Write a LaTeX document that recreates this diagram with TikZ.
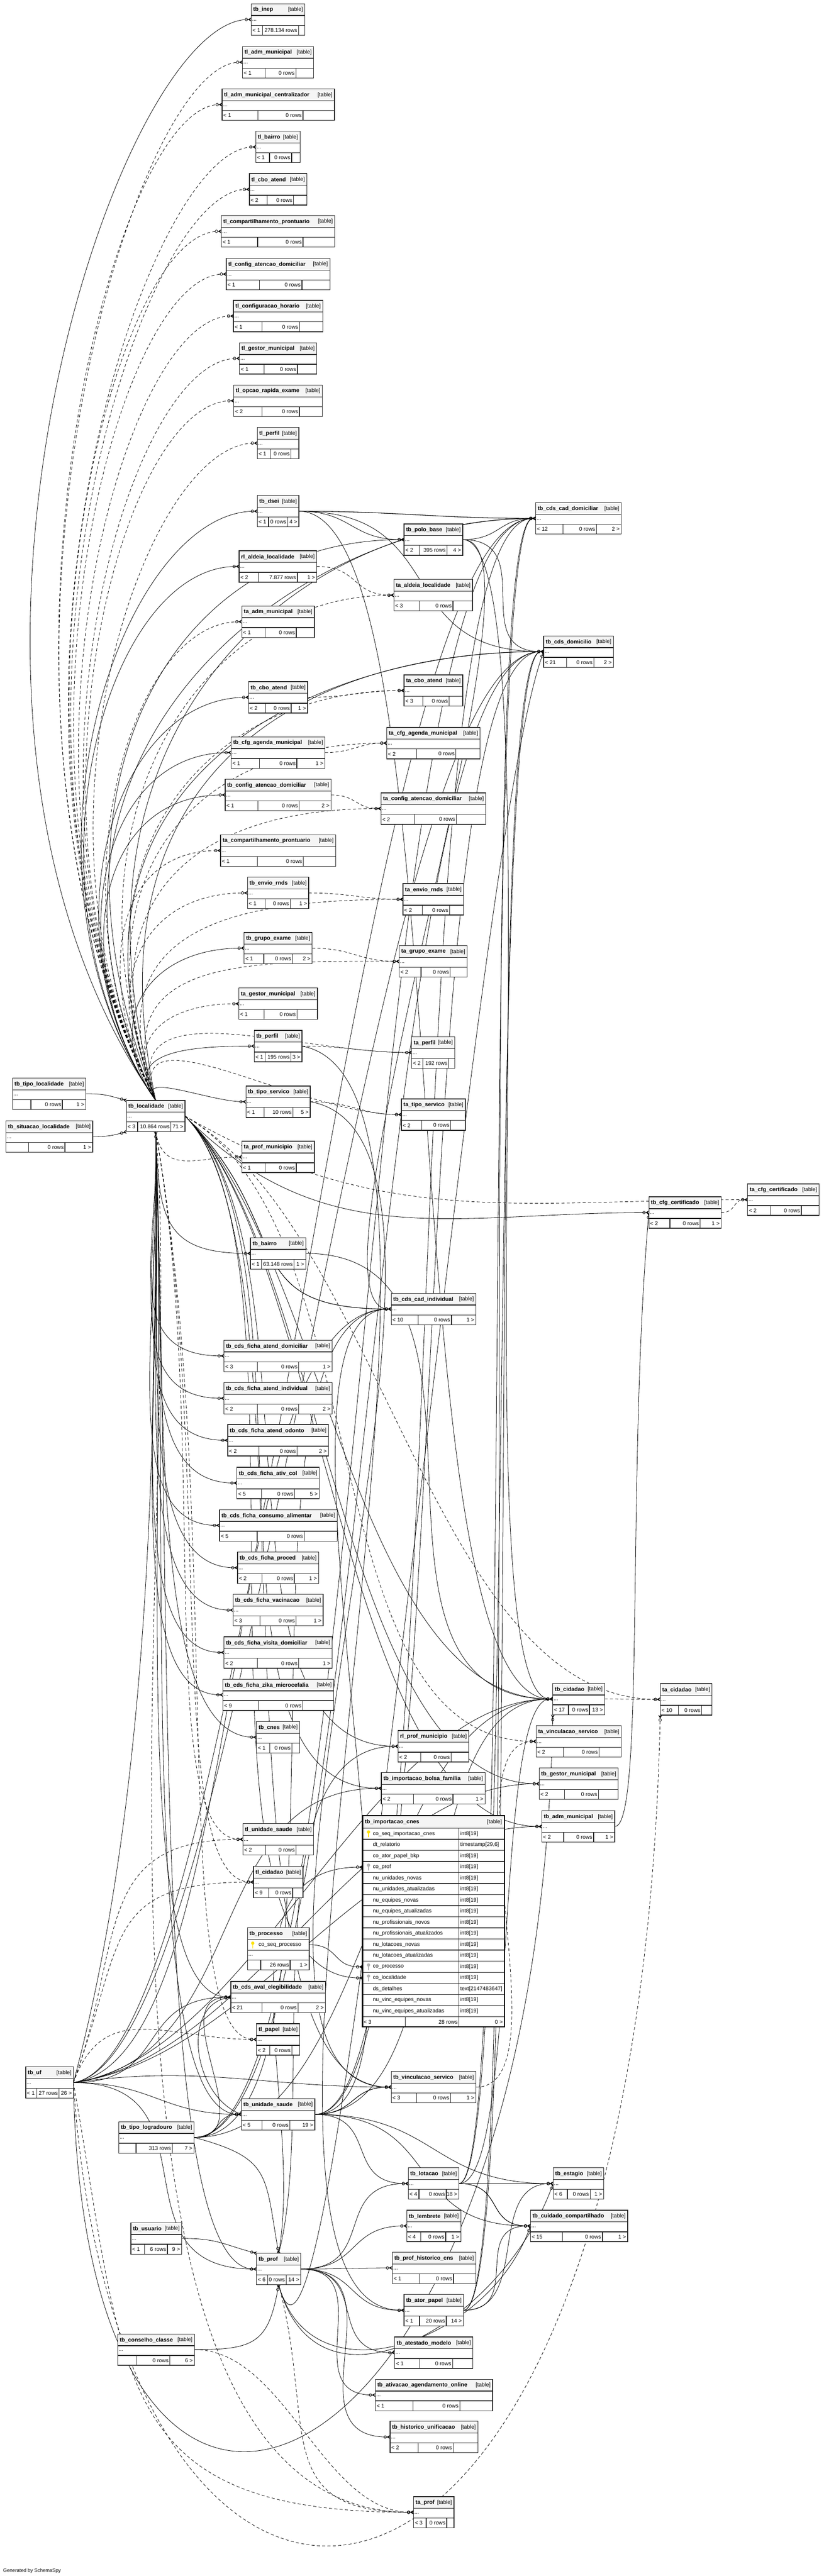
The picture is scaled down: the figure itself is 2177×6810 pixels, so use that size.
\documentclass[tikz,border=0pt]{standalone}
\usepackage{fontspec}
\setmainfont{Liberation Sans}
\usetikzlibrary{arrows.meta}
\pgfdeclarelayer{edges}
\pgfsetlayers{edges,main}

\tikzset{
  tableline/.style={draw=black!85, line width=0.9pt},
  headfill/.style={fill=black!4},
  tablename/.style={font=\bfseries\fontsize{7.4}{8}\selectfont, inner sep=0pt},
  tabletag/.style={font=\fontsize{7.2}{8}\selectfont, inner sep=0pt},
  cell/.style={font=\fontsize{7.2}{8}\selectfont, inner sep=0pt},
  tablebox/.style={inner sep=0pt, outer sep=0pt, minimum height=41.5pt},
  rowport/.style={inner sep=0pt, outer sep=0pt, minimum size=0pt},
  fk/.style={line width=0.55pt, -{Circle[open,length=4pt,width=4pt]Stealth[reversed,length=4.5pt,width=5pt]}},
  implied/.style={fk, dash pattern=on 4pt off 3pt},
}

% one table: name, x, y, width, footer splits (fractions), parents, rows, children
\newcommand{\dbtable}[9]{%
  \fill[white] (#2,#3) rectangle ++(#4,83);
  \fill[headfill] (#2,#3) rectangle ++(#4,31);
  \draw[tableline] (#2,#3) rectangle ++(#4,83);
  \draw[tableline] (#2,#3+31) -- ++(#4,0) (#2,#3+57) -- ++(#4,0);
  \draw[tableline] (#2+#5*#4,#3+57) -- ++(0,26) (#2+#6*#4,#3+57) -- ++(0,26);
  \node[tablename, anchor=west] (#1-name) at (#2+5,#3+16) {#1};
  \node[tabletag, anchor=east] (#1-tag) at (#2+#4-5,#3+16) {[table]};
  \node[cell, anchor=west] (#1-dots) at (#2+2,#3+45) {...};
  \node[cell, anchor=west] (#1-in) at (#2+3,#3+70) {#7};
  \node[cell, anchor=east] (#1-rows) at (#2+#6*#4-3,#3+70) {#8};
  \node[cell, anchor=east] (#1-out) at (#2+#4-4,#3+70) {#9};
  \node[tablebox, minimum width=#4*0.5pt, anchor=north west] (#1) at (#2,#3) {};
}
% key glyph: x, y, colour
\newcommand{\dbkey}[3]{%
  \draw[#3, line width=1.1pt, line cap=round] (#1,#2-2) -- (#1,#2+9);
  \fill[#3] (#1,#2-4) circle (2.2pt);
}
% relation: style, parent anchor, out angle, child anchor, in angle, out cap, in cap (pt)
\newcommand{\link}[7]{%
  \path (#2); \pgfgetlastxy{\ax}{\ay}%
  \path (#4); \pgfgetlastxy{\bx}{\by}%
  \pgfmathsetmacro{\dd}{0.4*(abs(\bx-\ax)+abs(\by-\ay))}%
  \pgfmathsetmacro{\dout}{min(\dd,#6)}%
  \pgfmathsetmacro{\din}{min(\dd,#7)}%
  \draw[#1] (#2) .. controls +(#3:\dout pt) and +(#5:\din pt) .. (#4);
}

\begin{document}
\catcode`\_=12
\begin{tikzpicture}[x=0.5pt, y=-0.5pt]
\useasboundingbox (0,0) rectangle (2177,6810);

% column of tables above tb_localidade
\dbtable{tb_inep}{664}{10}{142}{0.21}{0.88}{< 1}{278.134 rows}{}
\dbtable{tl_adm_municipal}{641}{123}{188}{0.32}{0.75}{< 1}{0 rows}{}
\dbtable{tl_adm_municipal_centralizador}{587}{235}{297}{0.32}{0.72}{< 1}{0 rows}{}
\dbtable{tl_bairro}{676}{347}{117}{0.31}{0.81}{< 1}{0 rows}{}
\dbtable{tl_cbo_atend}{659}{459}{152}{0.31}{0.77}{< 2}{0 rows}{}
\dbtable{tl_compartilhamento_prontuario}{585}{570}{300}{0.32}{0.72}{< 1}{0 rows}{}
\dbtable{tl_config_atencao_domiciliar}{598}{683}{274}{0.32}{0.73}{< 1}{0 rows}{}
\dbtable{tl_configuracao_horario}{617}{794}{236}{0.32}{0.74}{< 1}{0 rows}{}
\dbtable{tl_gestor_municipal}{633}{906}{204}{0.32}{0.75}{< 1}{0 rows}{}
\dbtable{tl_opcao_rapida_exame}{618}{1018}{234}{0.32}{0.74}{< 2}{0 rows}{}
\dbtable{tl_perfil}{680}{1130}{110}{0.31}{0.81}{< 1}{0 rows}{}
\dbtable{tb_dsei}{680}{1310}{110}{0.27}{0.73}{< 1}{0 rows}{4 >}
\dbtable{tb_polo_base}{1068}{1385}{155}{0.26}{0.73}{< 2}{395 rows}{4 >}
\dbtable{tb_cds_cad_domiciliar}{1416}{1329}{226}{0.32}{0.71}{< 12}{0 rows}{2 >}
\dbtable{rl_aldeia_localidade}{632}{1456}{205}{0.25}{0.75}{< 2}{7.877 rows}{1 >}
\dbtable{ta_aldeia_localidade}{1041}{1532}{208}{0.32}{0.75}{< 3}{0 rows}{}
\dbtable{ta_adm_municipal}{639}{1602}{192}{0.32}{0.75}{< 1}{0 rows}{}
\dbtable{tb_cds_domicilio}{1437}{1681}{184}{0.33}{0.72}{< 21}{0 rows}{2 >}
\dbtable{ta_cbo_atend}{1068}{1784}{155}{0.32}{0.77}{< 3}{0 rows}{}
\dbtable{tb_cbo_atend}{657}{1802}{156}{0.29}{0.72}{< 2}{0 rows}{1 >}
\dbtable{ta_cfg_agenda_municipal}{1022}{1923}{247}{0.32}{0.74}{< 2}{0 rows}{}
\dbtable{tb_cfg_agenda_municipal}{611}{1948}{248}{0.30}{0.70}{< 1}{0 rows}{1 >}
\dbtable{tb_config_atencao_domiciliar}{595}{2060}{280}{0.31}{0.70}{< 1}{0 rows}{2 >}
\dbtable{ta_config_atencao_domiciliar}{1007}{2096}{277}{0.32}{0.72}{< 2}{0 rows}{}
\dbtable{ta_compartilhamento_prontuario}{583}{2207}{304}{0.32}{0.72}{< 1}{0 rows}{}
\dbtable{tb_envio_rnds}{654}{2319}{162}{0.29}{0.70}{< 1}{0 rows}{1 >}
\dbtable{ta_envio_rnds}{1065}{2336}{160}{0.32}{0.77}{< 2}{0 rows}{}
\dbtable{tb_grupo_exame}{645}{2465}{180}{0.29}{0.71}{< 1}{0 rows}{2 >}
\dbtable{ta_grupo_exame}{1055}{2500}{180}{0.32}{0.75}{< 2}{0 rows}{}
\dbtable{ta_gestor_municipal}{631}{2612}{208}{0.32}{0.74}{< 1}{0 rows}{}
\dbtable{tb_perfil}{672}{2724}{126}{0.23}{0.77}{< 1}{195 rows}{3 >}
\dbtable{ta_perfil}{1088}{2741}{114}{0.26}{0.86}{< 2}{192 rows}{}
\dbtable{tb_tipo_servico}{650}{2871}{170}{0.28}{0.73}{< 1}{10 rows}{5 >}
\dbtable{ta_tipo_servico}{1061}{2905}{169}{0.32}{0.77}{< 2}{0 rows}{}

% the hub and its three parents
\dbtable{tb_tipo_localidade}{33}{2850}{194}{0.25}{0.68}{}{0 rows}{1 >}
\dbtable{tb_situacao_localidade}{16}{2963}{229}{0.26}{0.68}{}{0 rows}{1 >}
\dbtable{tb_localidade}{334}{2909}{155}{0.19}{0.76}{< 3}{10.864 rows}{71 >}
\dbtable{tb_uf}{68}{5464}{126}{0.23}{0.70}{< 1}{27 rows}{26 >}
\dbtable{tb_tipo_logradouro}{314}{5609}{199}{0.23}{0.71}{}{313 rows}{7 >}

% column of tables below tb_localidade
\dbtable{ta_prof_municipio}{639}{3017}{192}{0.32}{0.75}{< 1}{0 rows}{}
\dbtable{ta_cfg_certificado}{1976}{3130}{189}{0.32}{0.75}{< 2}{0 rows}{}
\dbtable{tb_cfg_certificado}{1715}{3164}{191}{0.29}{0.71}{< 2}{0 rows}{1 >}
\dbtable{tb_bairro}{662}{3272}{146}{0.20}{0.79}{< 1}{63.148 rows}{1 >}
\dbtable{tb_cds_cad_individual}{1034}{3419}{224}{0.32}{0.71}{< 10}{0 rows}{1 >}
\dbtable{tb_cds_ficha_atend_domiciliar}{592}{3543}{286}{0.31}{0.69}{< 3}{0 rows}{1 >}
\dbtable{tb_cds_ficha_atend_individual}{592}{3655}{286}{0.31}{0.69}{< 2}{0 rows}{2 >}
\dbtable{tb_cds_ficha_atend_odonto}{602}{3766}{266}{0.31}{0.69}{< 2}{0 rows}{2 >}
\dbtable{tb_cds_ficha_ativ_col}{626}{3879}{218}{0.30}{0.70}{< 5}{0 rows}{5 >}
\dbtable{tb_cds_ficha_consumo_alimentar}{580}{3991}{311}{0.32}{0.72}{< 5}{0 rows}{}
\dbtable{tb_cds_ficha_proced}{628}{4103}{214}{0.30}{0.70}{< 2}{0 rows}{1 >}
\dbtable{tb_cds_ficha_vacinacao}{616}{4215}{238}{0.30}{0.70}{< 3}{0 rows}{1 >}
\dbtable{tb_cds_ficha_visita_domiciliar}{592}{4327}{286}{0.31}{0.69}{< 2}{0 rows}{1 >}
\dbtable{tb_cds_ficha_zika_microcefalia}{589}{4439}{293}{0.32}{0.72}{< 9}{0 rows}{}
\dbtable{tb_cnes}{678}{4551}{114}{0.31}{0.82}{< 1}{0 rows}{}
\dbtable{tb_cidadao}{1461}{4450}{137}{0.30}{0.71}{< 17}{0 rows}{13 >}
\dbtable{ta_cidadao}{1745}{4451}{137}{0.35}{0.80}{< 10}{0 rows}{}
\dbtable{ta_vinculacao_servico}{1417}{4562}{225}{0.32}{0.74}{< 2}{0 rows}{}
\dbtable{rl_prof_municipio}{1052}{4575}{187}{0.32}{0.75}{< 2}{0 rows}{}
\dbtable{tb_gestor_municipal}{1425}{4674}{209}{0.32}{0.75}{< 2}{0 rows}{}
\dbtable{tb_importacao_bolsa_familia}{1008}{4686}{274}{0.31}{0.69}{< 2}{0 rows}{1 >}
\dbtable{tb_adm_municipal}{1432}{4787}{193}{0.30}{0.71}{< 2}{0 rows}{1 >}
\dbtable{tl_unidade_saude}{642}{4821}{187}{0.32}{0.75}{< 2}{0 rows}{}
\dbtable{tl_cidadao}{670}{4934}{131}{0.31}{0.79}{< 9}{0 rows}{}
\dbtable{tb_cds_aval_elegibilidade}{610}{5238}{250}{0.33}{0.71}{< 21}{0 rows}{2 >}
\dbtable{tl_papel}{678}{5350}{114}{0.31}{0.82}{< 2}{0 rows}{}
\dbtable{tb_vinculacao_servico}{1034}{5476}{224}{0.30}{0.70}{< 3}{0 rows}{1 >}
\dbtable{tb_unidade_saude}{638}{5548}{194}{0.28}{0.66}{< 5}{0 rows}{19 >}
\dbtable{tb_lotacao}{1079}{5731}{134}{0.21}{0.75}{< 4}{0 rows}{18 >}
\dbtable{tb_estagio}{1462}{5731}{134}{0.28}{0.73}{< 6}{0 rows}{1 >}
\dbtable{tb_lembrete}{1075}{5843}{143}{0.26}{0.72}{< 4}{0 rows}{1 >}
\dbtable{tb_cuidado_compartilhado}{1402}{5843}{257}{0.33}{0.74}{< 15}{0 rows}{1 >}
\dbtable{tb_usuario}{346}{5876}{134}{0.27}{0.72}{< 1}{6 rows}{9 >}
\dbtable{tb_prof_historico_cns}{1037}{5954}{221}{0.32}{0.73}{< 1}{0 rows}{}
\dbtable{tb_prof}{678}{5957}{117}{0.25}{0.67}{< 6}{0 rows}{14 >}
\dbtable{tb_ator_papel}{1068}{6066}{157}{0.26}{0.71}{< 1}{20 rows}{14 >}
\dbtable{tb_conselho_classe}{311}{6170}{203}{0.25}{0.68}{}{0 rows}{6 >}
\dbtable{tb_atestado_modelo}{1043}{6178}{207}{0.32}{0.74}{< 1}{0 rows}{}
\dbtable{tb_ativacao_agendamento_online}{992}{6290}{310}{0.32}{0.72}{< 1}{0 rows}{}
\dbtable{tb_historico_unificacao}{1031}{6401}{232}{0.32}{0.72}{< 2}{0 rows}{}
\dbtable{ta_prof}{1093}{6600}{107}{0.31}{0.82}{< 3}{0 rows}{}

% tb_processo, with its key column
\fill[white] (654,5096) rectangle (817,5208);
\fill[headfill] (654,5096) rectangle (817,5127);
\draw[tableline] (654,5096) rectangle (817,5208);
\draw[tableline] (654,5127) -- (817,5127) (654,5156) -- (817,5156) (654,5182) -- (817,5182);
\draw[tableline] (689,5182) -- (689,5208) (767,5182) -- (767,5208);
\node[tablename, anchor=west] (tb_processo-name) at (659,5112) {tb_processo};
\node[tabletag, anchor=east] (tb_processo-tag) at (812,5112) {[table]};
\dbkey{668}{5141}{yellow!85!orange}
\node[cell, anchor=west] (tb_processo-key) at (683,5142) {co_seq_processo};
\node[cell, anchor=west] (tb_processo-dots) at (656,5170) {...};
\node[cell, anchor=east] (tb_processo-rows) at (764,5195) {26 rows};
\node[cell, anchor=east] (tb_processo-out) at (813,5195) {1 >};
\node[tablebox, minimum width=81.5pt, minimum height=56pt, anchor=north west] (tb_processo) at (654,5096) {};
\node[rowport] (proc-key) at (817,5141) {};

% tb_importacao_cnes, shown with all its columns
\fill[white] (958,4800) rectangle (1333,5358);
\fill[headfill] (958,4800) rectangle (1333,4833);
\node[tablename, anchor=west] (tb_importacao_cnes-name) at (964,4817) {tb_importacao_cnes};
\node[tabletag, anchor=east] (tb_importacao_cnes-tag) at (1327,4817) {[table]};
\foreach \col/\ty [count=\i from 0] in {co_seq_importacao_cnes/int8[19], dt_relatorio/{timestamp[29,6]}, co_ator_papel_bkp/int8[19], co_prof/int8[19], nu_unidades_novas/int8[19], nu_unidades_atualizadas/int8[19], nu_equipes_novas/int8[19], nu_equipes_atualizadas/int8[19], nu_profissionais_novos/int8[19], nu_profissionais_atualizados/int8[19], nu_lotacoes_novas/int8[19], nu_lotacoes_atualizadas/int8[19], co_processo/int8[19], co_localidade/int8[19], ds_detalhes/text[2147483647], nu_vinc_equipes_novas/int8[19], nu_vinc_equipes_atualizadas/int8[19]} {
  \node[cell, anchor=west] (cnes-\i) at (985,4833+\i*29.3+15) {\col};
  \node[cell, anchor=west] (cnes-type-\i) at (1216,4833+\i*29.3+15) {\ty};
  \draw[tableline] (958,4833+\i*29.3+29.3) -- (1333,4833+\i*29.3+29.3);
  \node[rowport] (cnes-row\i) at (958,4833+\i*29.3+15) {};
}
\dbkey{974}{4847}{yellow!85!orange}
\foreach \i in {3,12,13} {\dbkey{974}{4833+\i*29.3+14}{black!30}}
\draw[tableline] (958,4833) -- (1333,4833) (1213,4833) -- (1213,5331);
\draw[tableline] (1071,5331) -- (1071,5358) (1213,5331) -- (1213,5358);
\node[cell, anchor=west] (tb_importacao_cnes-in) at (961,5345) {< 3};
\node[cell, anchor=east] (tb_importacao_cnes-rows) at (1210,5345) {28 rows};
\node[cell, anchor=east] (tb_importacao_cnes-out) at (1329,5345) {0 >};
\draw[draw=black, line width=1.6pt] (958,4800) rectangle (1333,5358);
\node[tablebox, minimum width=187.5pt, minimum height=279pt, anchor=north west] (tb_importacao_cnes) at (958,4800) {};

\node[cell, anchor=south west, font=\fontsize{6.5}{7}\selectfont] (credit) at (8,6803) {Generated by SchemaSpy};

\begin{pgfonlayer}{edges}
% parents of tb_localidade
\link{fk}{tb_tipo_localidade.east}{0}{tb_localidade.north west}{165}{9999}{9999}
\link{fk}{tb_situacao_localidade.east}{0}{tb_localidade.south west}{195}{9999}{9999}
\link{fk}{tb_uf.east}{75}{tb_localidade.south}{-90}{400}{400}

% children of tb_localidade, upwards
\foreach \tb in {tb_inep,tb_dsei,rl_aldeia_localidade,tb_cbo_atend,tb_cfg_agenda_municipal,tb_config_atencao_domiciliar,tb_grupo_exame,tb_perfil,tb_tipo_servico}
  {\link{fk}{tb_localidade.north}{125}{\tb.west}{180}{9999}{180}}
\foreach \tb in {tl_adm_municipal,tl_adm_municipal_centralizador,tl_bairro,tl_cbo_atend,tl_compartilhamento_prontuario,tl_config_atencao_domiciliar,tl_configuracao_horario,tl_gestor_municipal,tl_opcao_rapida_exame,tl_perfil,ta_adm_municipal,ta_compartilhamento_prontuario,tb_envio_rnds,ta_gestor_municipal}
  {\link{implied}{tb_localidade.north}{118}{\tb.west}{180}{9999}{150}}
\foreach \tb in {ta_aldeia_localidade,ta_cbo_atend,ta_cfg_agenda_municipal,ta_config_atencao_domiciliar,ta_envio_rnds,ta_grupo_exame,ta_perfil,ta_tipo_servico}
  {\link{implied}{tb_localidade.north}{110}{\tb.west}{180}{9999}{260}}
\foreach \tb/\a in {tb_polo_base/112,tb_cds_cad_domiciliar/116,tb_cds_cad_domiciliar/106,tb_cds_domicilio/110,tb_cds_domicilio/102}
  {\link{fk}{tb_localidade.north}{\a}{\tb.west}{180}{9999}{320}}

% children of tb_localidade, downwards
\foreach \tb in {tb_bairro,tb_cds_ficha_atend_domiciliar,tb_cds_ficha_atend_individual,tb_cds_ficha_atend_odonto,tb_cds_ficha_ativ_col,tb_cds_ficha_consumo_alimentar,tb_cds_ficha_proced,tb_cds_ficha_vacinacao,tb_cds_ficha_visita_domiciliar,tb_cds_ficha_zika_microcefalia,tb_cnes,tb_cds_aval_elegibilidade,tb_unidade_saude,tb_prof}
  {\link{fk}{tb_localidade.south}{-88}{\tb.west}{180}{9999}{140}}
\foreach \tb in {ta_prof_municipio,tl_unidade_saude,tl_cidadao,tl_papel}
  {\link{implied}{tb_localidade.south}{-80}{\tb.west}{180}{9999}{120}}
\foreach \tb in {tb_cfg_certificado,tb_cds_cad_individual,tb_cds_cad_individual,tb_cidadao,rl_prof_municipio,tb_importacao_bolsa_familia,cnes-row13,tb_vinculacao_servico,tb_gestor_municipal,tb_adm_municipal}
  {\link{fk}{tb_localidade.east}{-45}{\tb.west}{180}{260}{260}}
\foreach \tb in {ta_cfg_certificado,ta_cidadao,ta_vinculacao_servico}
  {\link{implied}{tb_localidade.east}{-30}{\tb.west}{180}{300}{300}}
\link{implied}{tb_localidade.south}{-85}{ta_prof.west}{180}{500}{500}

% children of tb_uf
\foreach \tb in {tb_unidade_saude,tb_cds_aval_elegibilidade,tb_prof}
  {\link{fk}{tb_uf.east}{0}{\tb.west}{180}{9999}{9999}}
\foreach \tb in {tb_cidadao,tb_adm_municipal,tb_gestor_municipal,tb_importacao_bolsa_familia,tb_cds_cad_individual,tb_cds_domicilio,tb_cds_cad_domiciliar,tb_vinculacao_servico}
  {\link{fk}{tb_uf.east}{8}{\tb.west}{180}{240}{240}}
\foreach \tb in {tl_cidadao,tl_unidade_saude,tl_papel}
  {\link{implied}{tb_uf.east}{70}{\tb.west}{180}{200}{200}}
\link{implied}{tb_uf.east}{-80}{ta_prof.west}{180}{400}{400}
\draw[implied] (tb_uf.east) .. controls +(120,1800) and +(-60,2700) .. (ta_cidadao.south west);
\draw[fk] (tb_uf.east) .. controls +(30,1650) and +(-40,2100) .. (tb_cidadao.south west);

% children of tb_tipo_logradouro
\foreach \tb in {tb_unidade_saude,tb_cds_aval_elegibilidade}
  {\link{fk}{tb_tipo_logradouro.east}{0}{\tb.west}{180}{9999}{9999}}
\foreach \tb in {tb_cidadao,tb_cds_cad_domiciliar,tb_cds_domicilio,tb_cds_cad_individual}
  {\link{fk}{tb_tipo_logradouro.east}{0}{\tb.west}{180}{240}{240}}
\link{fk}{tb_tipo_logradouro.east}{-15}{tb_prof.north}{100}{9999}{9999}

% tb_dsei and tb_polo_base
\foreach \tb in {tb_polo_base,tb_cds_cad_domiciliar,tb_cds_cad_domiciliar,tb_cds_domicilio,tb_cidadao}
  {\link{fk}{tb_dsei.east}{0}{\tb.west}{180}{220}{220}}
\foreach \tb in {tb_cds_cad_domiciliar,tb_cds_domicilio,tb_cidadao,tb_cds_cad_individual}
  {\link{fk}{tb_polo_base.east}{0}{\tb.west}{180}{130}{130}}

% tables and their audit copies
\foreach \p/\c in {rl_aldeia_localidade/ta_aldeia_localidade,tb_cbo_atend/ta_cbo_atend,tb_cfg_agenda_municipal/ta_cfg_agenda_municipal,tb_config_atencao_domiciliar/ta_config_atencao_domiciliar,tb_envio_rnds/ta_envio_rnds,tb_grupo_exame/ta_grupo_exame,tb_perfil/ta_perfil,tb_tipo_servico/ta_tipo_servico,tb_cidadao/ta_cidadao,tb_cfg_certificado/ta_cfg_certificado,tb_vinculacao_servico/ta_vinculacao_servico,tb_conselho_classe/ta_prof}
  {\link{implied}{\p.east}{0}{\c.west}{180}{120}{120}}
\link{implied}{tb_prof.south}{-75}{ta_prof.west}{180}{9999}{9999}

% tb_unidade_saude
\foreach \tb in {tb_vinculacao_servico,tb_vinculacao_servico,tb_lotacao,tb_estagio,tb_cuidado_compartilhado}
  {\link{fk}{tb_unidade_saude.east}{0}{\tb.west}{180}{9999}{9999}}
\foreach \tb in {tb_cds_cad_domiciliar,tb_cds_domicilio,tb_cds_cad_individual,tb_cidadao}
  {\link{fk}{tb_unidade_saude.east}{0}{\tb.west}{180}{200}{200}}
\link{fk}{tb_unidade_saude.west}{160}{tb_cds_aval_elegibilidade.west}{190}{80}{80}

% tb_lotacao
\foreach \tb in {tb_estagio,tb_cuidado_compartilhado,tb_cuidado_compartilhado}
  {\link{fk}{tb_lotacao.east}{0}{\tb.west}{180}{90}{90}}
\foreach \tb in {tb_cds_domicilio,tb_cds_cad_domiciliar,tb_cidadao}
  {\link{fk}{tb_lotacao.east}{0}{\tb.west}{180}{80}{80}}

% tb_prof
\foreach \tb in {tb_lotacao,tb_lembrete,tb_prof_historico_cns,tb_ator_papel,tb_atestado_modelo,tb_ativacao_agendamento_online,tb_historico_unificacao}
  {\link{fk}{tb_prof.east}{0}{\tb.west}{180}{9999}{9999}}
\link{fk}{tb_prof.north}{75}{rl_prof_municipio.west}{180}{200}{200}
\link{fk}{tb_prof.north}{80}{cnes-row3.west}{180}{200}{200}
\foreach \tb in {tb_estagio,tb_cuidado_compartilhado,tb_cds_domicilio}
  {\link{fk}{tb_prof.south}{-75}{\tb.west}{-110}{300}{300}}

% tb_ator_papel
\foreach \tb in {tb_cuidado_compartilhado,tb_estagio,tb_cds_domicilio,tb_cds_cad_domiciliar}
  {\link{fk}{tb_ator_papel.east}{0}{\tb.west}{180}{90}{90}}

% the rest
\link{fk}{tb_usuario.east}{0}{tb_prof.north west}{165}{9999}{9999}
\link{fk}{tb_conselho_classe.east}{0}{tb_prof.south}{-100}{9999}{9999}
\link{fk}{proc-key.east}{0}{cnes-row12.west}{180}{9999}{9999}
\link{fk}{tb_adm_municipal.east}{0}{tb_cfg_certificado.west}{-95}{40}{500}
\link{fk}{tb_tipo_servico.east}{-10}{tb_vinculacao_servico.west}{180}{300}{300}
\link{fk}{tb_perfil.east}{-10}{tb_ator_papel.west}{180}{300}{300}
\link{fk}{tb_bairro.east}{0}{tb_cidadao.west}{180}{300}{300}
\end{pgfonlayer}
\end{tikzpicture}
\end{document}
